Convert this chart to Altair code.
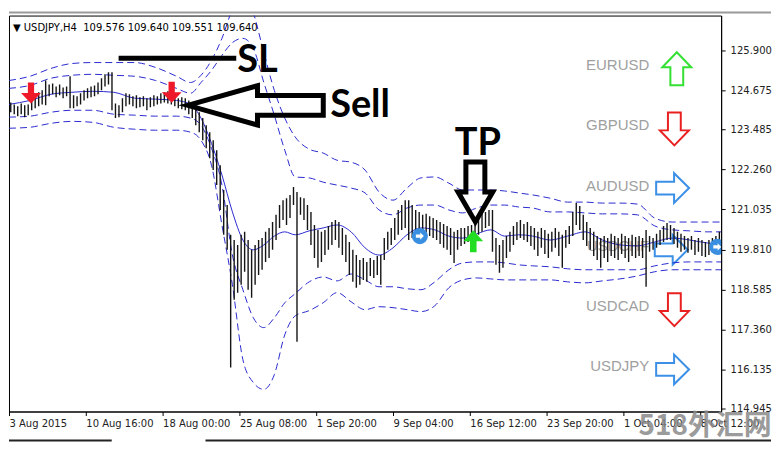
import altair as alt
import pandas as pd

# ---------------- data ----------------
highs = [
    124.31, 124.25, 124.19, 124.28, 124.22, 124.25, 124.37, 124.50, 124.62, 124.68,
    124.98, 124.86, 124.89, 124.80, 124.86, 124.77, 124.80, 125.11, 124.53, 124.50,
    124.59, 124.68, 124.74, 124.80, 124.83, 124.92, 125.05, 125.17, 125.23, 125.23,
    124.28, 124.22, 124.44, 124.59, 124.56, 124.50, 124.53, 124.47, 124.50, 124.44,
    124.47, 124.53, 124.50, 124.59, 124.62, 124.65, 124.59, 124.50, 124.44, 124.47,
    124.44, 124.37, 124.28, 124.13, 124.01, 123.83, 123.61, 123.40, 123.15, 122.85,
    122.39, 121.63, 121.17, 120.26, 120.10, 119.95, 120.26, 120.35, 120.10, 119.80,
    119.95, 120.10, 120.16, 120.35, 120.47, 120.65, 120.87, 121.17, 121.32, 121.38,
    121.48, 121.72, 121.57, 121.41, 121.38, 121.17, 120.96, 120.56, 120.41, 120.35,
    120.41, 120.53, 120.65, 120.71, 120.65, 120.47, 120.26, 120.04, 119.80, 119.64,
    119.49, 119.55, 119.43, 119.55, 119.49, 119.61, 119.64, 120.16, 120.35, 120.47,
    120.77, 121.02, 121.17, 121.32, 121.32, 121.17, 121.02, 120.96, 120.87, 120.90,
    120.83, 120.77, 120.71, 120.65, 120.59, 120.53, 120.47, 120.35, 120.41, 120.47,
    120.47, 120.53, 120.56, 120.65, 120.77, 120.90, 120.96, 121.02, 121.02, 120.16,
    119.95, 120.10, 120.22, 120.35, 120.53, 120.65, 120.71, 120.59, 120.65, 120.53,
    120.47, 120.35, 120.47, 120.41, 120.29, 120.35, 120.47, 120.35, 120.26, 120.41,
    120.53, 120.96, 121.23, 121.14, 120.87, 120.65, 120.47, 120.35, 120.22, 120.16,
    120.22, 120.16, 120.29, 120.22, 120.16, 120.29, 120.22, 120.16, 120.26, 120.19,
    120.22, 120.16, 120.41, 120.22, 120.16, 120.29, 120.41, 120.53, 120.62, 120.56,
    120.47, 120.35, 120.29, 120.22, 120.16, 120.22, 120.10, 120.16, 120.10, 120.04,
    120.10, 120.16, 120.22, 120.35,
]
lows = [
    124.01, 123.95, 123.89, 123.95, 123.86, 123.92, 124.07, 124.13, 124.19, 124.25,
    124.22, 124.50, 124.56, 124.47, 124.53, 124.44, 124.50, 124.13, 124.13, 124.19,
    124.25, 124.37, 124.44, 124.47, 124.50, 124.56, 124.68, 124.80, 124.86, 124.07,
    123.83, 123.86, 124.01, 124.19, 124.25, 124.19, 124.13, 124.16, 124.19, 124.07,
    124.16, 124.19, 124.25, 124.28, 124.31, 124.28, 124.25, 124.19, 124.13, 124.10,
    124.07, 123.95, 123.83, 123.61, 123.40, 123.15, 122.91, 122.60, 122.24, 121.78,
    121.02, 120.26, 119.80, 116.20, 118.27, 118.49, 118.73, 119.13, 118.58, 118.33,
    118.73, 119.03, 119.19, 119.43, 119.55, 119.80, 120.10, 120.47, 120.71, 120.56,
    120.77, 121.17, 116.99, 120.87, 120.71, 120.41, 119.95, 119.55, 119.25, 119.43,
    119.64, 119.80, 119.95, 120.10, 119.86, 119.64, 119.43, 119.03, 118.82, 118.64,
    118.73, 118.88, 118.82, 119.00, 118.94, 119.03, 118.73, 119.49, 119.80, 119.95,
    120.10, 120.26, 120.41, 120.47, 120.10, 120.16, 120.10, 120.35, 120.26, 120.32,
    120.22, 120.16, 120.10, 119.98, 119.86, 119.80, 119.64, 119.40, 119.80, 119.92,
    119.98, 120.04, 120.10, 120.16, 120.26, 120.35, 120.47, 120.53, 119.74, 119.34,
    119.10, 119.25, 119.55, 119.74, 119.95, 120.10, 120.16, 120.10, 120.04, 119.92,
    119.80, 119.61, 119.86, 119.67, 119.55, 119.74, 119.86, 119.61, 119.25, 119.86,
    119.98, 120.22, 120.56, 120.41, 120.10, 119.92, 119.80, 119.61, 119.49, 119.25,
    119.55, 119.43, 119.61, 119.55, 119.49, 119.67, 119.55, 119.43, 119.61, 119.55,
    119.61, 119.55, 118.67, 119.74, 119.80, 119.86, 119.95, 120.04, 120.10, 120.10,
    119.98, 119.86, 119.74, 119.80, 119.71, 119.80, 119.64, 119.74, 119.61, 119.58,
    119.64, 119.74, 119.80, 119.86,
]

tick_idx = [0, 22, 44, 66, 88, 110, 132, 154, 176, 198]
tick_labels = ["3 Aug 2015", "10 Aug 16:00", "18 Aug 00:00", "25 Aug 08:00",
               "1 Sep 20:00", "9 Sep 04:00", "16 Sep 12:00", "23 Sep 20:00",
               "1 Oct 04:00", "8 Oct 12:00"]
price_ticks = [125.900, 124.675, 123.485, 122.260, 121.035,
               119.810, 118.585, 117.360, 116.135, 114.945]

band_idx = [0, 6, 12, 18, 24, 30, 36, 42, 48, 52, 55, 58, 61, 64, 67, 70, 73, 76,
            79, 82, 86, 90, 94, 98, 102, 106, 110, 114, 118, 122, 126, 130, 134,
            138, 142, 146, 150, 155, 160, 165, 170, 175, 180, 185, 190, 195, 200, 204]
band_u2 = [124.98, 125.11, 125.35, 125.50, 125.53, 125.53, 125.53, 125.38, 125.11, 124.92,
           125.14, 125.60, 126.27, 127.18, 127.88, 127.06, 125.84, 124.68, 123.83, 123.25,
           122.88, 122.76, 122.54, 122.48, 122.24, 121.57, 121.32, 121.69, 122.00, 122.03,
           121.84, 121.63, 121.63, 121.63, 121.60, 121.54, 121.48, 121.38, 121.26, 121.26,
           121.23, 121.23, 121.20, 120.77, 120.65, 120.65, 120.65, 120.65]
band_u1 = [124.74, 124.83, 125.05, 125.14, 125.17, 125.14, 125.11, 124.98, 124.74, 124.59,
           124.92, 125.29, 125.75, 126.14, 126.27, 125.96, 124.92, 123.92, 122.85, 122.03,
           122.00, 121.87, 121.78, 121.69, 121.54, 121.02, 120.87, 121.08, 121.17, 121.17,
           121.02, 120.93, 121.08, 121.17, 121.17, 121.11, 121.08, 120.96, 120.96, 120.93,
           120.90, 120.90, 120.87, 120.53, 120.41, 120.38, 120.35, 120.35]
band_mid = [124.25, 124.37, 124.56, 124.62, 124.65, 124.62, 124.44, 124.41, 124.37, 124.25,
            123.83, 123.06, 122.09, 120.96, 120.10, 119.80, 119.95, 120.22, 120.35, 120.26,
            120.38, 120.47, 120.56, 120.35, 119.86, 119.64, 119.86, 120.26, 120.47, 120.41,
            120.22, 120.16, 120.29, 120.41, 120.22, 120.26, 120.22, 120.10, 120.22, 120.35,
            120.10, 119.95, 119.92, 120.04, 120.16, 120.10, 120.01, 119.98]
band_l1 = [123.86, 123.89, 124.01, 124.07, 124.07, 123.95, 123.92, 123.89, 123.89, 123.83,
           123.61, 122.91, 121.78, 119.64, 118.58, 117.72, 117.42, 117.72, 118.18, 118.46,
           118.82, 118.97, 118.85, 119.06, 118.88, 118.67, 118.67, 118.61, 118.58, 118.82,
           119.19, 119.40, 119.43, 119.43, 119.40, 119.34, 119.31, 119.28, 119.22, 119.19,
           119.19, 119.19, 119.19, 119.31, 119.40, 119.43, 119.43, 119.43]
band_l2 = [123.52, 123.55, 123.67, 123.73, 123.70, 123.55, 123.49, 123.46, 123.46, 123.40,
           123.15, 122.39, 120.56, 118.73, 116.44, 115.74, 115.53, 115.98, 117.20, 117.78,
           117.94, 118.18, 118.49, 118.21, 117.97, 118.06, 118.03, 117.97, 117.91, 118.09,
           118.64, 118.88, 118.94, 118.91, 118.88, 118.88, 118.88, 118.88, 118.82, 118.79,
           118.85, 118.91, 119.00, 119.13, 119.19, 119.19, 119.19, 119.19]

pairs = ["EURUSD", "GBPUSD", "AUDUSD", "USDCHF", "USDCAD", "USDJPY"]
pair_dir = ["up", "down", "right", "right", "down", "right"]
pair_label_v = [183.4] * 6
pair_label_p = [125.44, 123.61, 121.75, 119.92, 118.09, 116.23]
pair_arrow_v = [191.3, 190.6, 190.1, 189.7, 190.6, 190.1]
pair_arrow_p = [125.34, 123.50, 121.69, 119.80, 117.97, 116.14]

sell_sig_v = [6.3, 46.6]
sell_sig_p = [124.60, 124.62]
buy_sig_v = [133.0]
buy_sig_p = [120.06]
neutral_sig_v = [117.7, 202.9]
neutral_sig_p = [120.22, 119.89]

big_text = ["SL", "Sell", "TP"]
big_text_v = [65.4, 92.0, 127.7]
big_text_p = [125.23, 123.86, 122.70]
sl_line_v = [31.4]
sl_line_v2 = [65.1]
sl_line_p = [125.66]
sell_arrow_v = [70.6]
sell_arrow_p = [124.22]
tp_arrow_v = [133.6]
tp_arrow_p = [121.57]

header = "\u25bc USDJPY,H4\u00a0\u00a0109.576 109.640 109.551 109.640"
header_v = [1.14]
header_p = [126.60]
watermark = "518外汇网"
watermark_v = [199.4]
watermark_p = [114.37]

# ---------------- styles ----------------
SHAPES = {
    "up": "M0,-1L0.88,-0.09L0.39,-0.09L0.39,1L-0.39,1L-0.39,-0.09L-0.88,-0.09Z",
    "down": "M0,1L0.88,0.09L0.39,0.09L0.39,-1L-0.39,-1L-0.39,0.09L-0.88,0.09Z",
    "right": "M1,0L0.09,-0.9L0.09,-0.39L-1,-0.39L-1,0.39L0.09,0.39L0.09,0.9Z",
}
COLORS = {"up": "#33e033", "down": "#e82020", "right": "#3b8fe6"}
SELL_SIG = "M-0.3,-1L0.3,-1L0.3,0L0.95,0L0,1L-0.95,0L-0.3,0Z"
BUY_SIG = "M0,-1L0.9,0L0.3,0L0.3,1L-0.3,1L-0.3,0L-0.9,0Z"
BIG_LEFT = "M-1,0L0.03,-0.29L0.03,-0.147L1,-0.147L1,0.147L0.03,0.147L0.03,0.29Z"
BIG_DOWN = "M-0.317,-1L0.317,-1L0.317,0L0.58,0L0,1L-0.58,0L-0.317,0Z"
BLUE = "#2b2bd0"
AXFONT = "DejaVu Sans"

label_expr = "[" + ",".join("'" + s + "'" for s in tick_labels) + "][indexof(" + str(tick_idx) + ", datum.value)]"

x_enc = alt.X("v:Q", scale=alt.Scale(domain=[0, 204], nice=False, zero=False),
              axis=alt.Axis(values=tick_idx, labelExpr=label_expr, labelAlign="left",
                            labelPadding=3, tickSize=4, labelFlush=False, labelOverlap=False,
                            labelBound=False, grid=False, title=None, labelFont=AXFONT,
                            labelFontSize=10, labelColor="#222222", domainColor="black",
                            tickColor="black"))
y_enc = alt.Y("p:Q", scale=alt.Scale(domain=[114.853, 126.968], nice=False, zero=False),
              axis=alt.Axis(orient="right", values=price_ticks, format=".3f", tickSize=4,
                            labelPadding=5, grid=False, title=None, labelFont=AXFONT,
                            labelFontSize=10, labelColor="#222222", domainColor="black",
                            tickColor="black", labelOverlap=False))

# ---------------- frames ----------------
bars_df = pd.DataFrame({"v": [i + 0.5 for i in range(len(highs))], "p": lows, "p2": highs})

rows = []
for name, arr in [("u2", band_u2), ("u1", band_u1), ("l1", band_l1), ("l2", band_l2)]:
    for v, p in zip(band_idx, arr):
        rows.append({"v": v, "p": p, "band": name})
dash_df = pd.DataFrame(rows)
mid_df = pd.DataFrame({"v": band_idx, "p": band_mid})

lab_df = pd.DataFrame({"v": pair_label_v, "p": pair_label_p, "txt": pairs})
arr_df = pd.DataFrame({"v": pair_arrow_v, "p": pair_arrow_p,
                       "shape": [SHAPES[d] for d in pair_dir],
                       "col": [COLORS[d] for d in pair_dir]})

# ---------------- layers ----------------
panel_labels = alt.Chart(lab_df).mark_text(
    font="Liberation Sans", fontSize=15, color="#a0a0a0", align="right", baseline="middle"
).encode(x=x_enc, y=y_enc, text="txt:N")

panel_arrows = alt.Chart(arr_df).mark_point(
    filled=False, strokeWidth=2, size=1089, opacity=1
).encode(x=x_enc, y=y_enc, shape=alt.Shape("shape:N", scale=None),
         stroke=alt.Stroke("col:N", scale=None))

dashed = alt.Chart(dash_df).mark_line(
    color=BLUE, strokeWidth=1, strokeDash=[7, 4], clip=True, interpolate="monotone"
).encode(x=x_enc, y=y_enc, detail="band:N")

mid = alt.Chart(mid_df).mark_line(
    color=BLUE, strokeWidth=1, clip=True, interpolate="monotone"
).encode(x=x_enc, y=y_enc)

bars = alt.Chart(bars_df).mark_rule(color="#151515", strokeWidth=1.4, clip=True).encode(
    x=x_enc, y=y_enc, y2=alt.Y2("p2:Q"))

sl_line = alt.Chart(pd.DataFrame({"v": sl_line_v, "v2": sl_line_v2, "p": sl_line_p})).mark_rule(
    color="black", strokeWidth=5).encode(x=x_enc, x2=alt.X2("v2:Q"), y=y_enc)

texts = alt.Chart(pd.DataFrame({"v": big_text_v, "p": big_text_p, "txt": big_text})).mark_text(
    font="Lato", fontWeight="bold", fontSize=38, align="left", baseline="alphabetic", color="black"
).encode(x=x_enc, y=y_enc, text="txt:N")

sell_arrow = alt.Chart(pd.DataFrame({"v": sell_arrow_v, "p": sell_arrow_p})).mark_point(
    shape=BIG_LEFT, filled=False, stroke="black", strokeWidth=5, size=136 * 136, opacity=1
).encode(x=x_enc, y=y_enc)

tp_arrow = alt.Chart(pd.DataFrame({"v": tp_arrow_v, "p": tp_arrow_p})).mark_point(
    shape=BIG_DOWN, filled=False, stroke="black", strokeWidth=5, size=3600, opacity=1
).encode(x=x_enc, y=y_enc)

sell_sig = alt.Chart(pd.DataFrame({"v": sell_sig_v, "p": sell_sig_p})).mark_point(
    shape=SELL_SIG, filled=True, color="#ee1a2a", size=441, opacity=1, strokeWidth=0
).encode(x=x_enc, y=y_enc)

buy_sig = alt.Chart(pd.DataFrame({"v": buy_sig_v, "p": buy_sig_p})).mark_point(
    shape=BUY_SIG, filled=True, color="#22dd22", size=484, opacity=1, strokeWidth=0
).encode(x=x_enc, y=y_enc)

neutral_df = pd.DataFrame({"v": neutral_sig_v, "p": neutral_sig_p})
neutral_circle = alt.Chart(neutral_df).mark_point(
    shape="circle", filled=True, color="#3a8fe0", size=260, opacity=1, strokeWidth=0, clip=True
).encode(x=x_enc, y=y_enc)
neutral_arrow = alt.Chart(neutral_df).mark_point(
    shape=SHAPES["right"], filled=True, color="white", size=64, opacity=1, strokeWidth=0, clip=True
).encode(x=x_enc, y=y_enc)

head = alt.Chart(pd.DataFrame({"v": header_v, "p": header_p, "txt": [header]})).mark_text(
    font=AXFONT, fontSize=10, color="black", align="left", baseline="middle"
).encode(x=x_enc, y=y_enc, text="txt:N")

wm = alt.Chart(pd.DataFrame({"v": watermark_v, "p": watermark_p, "txt": [watermark]})).mark_text(
    font="Noto Sans CJK SC", fontWeight="bold", fontSize=28, color="#8a8a8a", opacity=0.85,
    align="center", baseline="middle"
).encode(x=x_enc, y=y_enc, text="txt:N")

top_line = alt.Chart(pd.DataFrame({"a": [0]})).mark_rule(color="#9a9a9a", strokeWidth=2).encode(
    x=alt.value(0), x2=alt.value(764), y=alt.value(-3))

scroll_a = alt.Chart(pd.DataFrame({"a": [0]})).mark_rule(color="#222222", strokeWidth=2).encode(
    x=alt.value(0), x2=alt.value(103), y=alt.value(426))
scroll_b = alt.Chart(pd.DataFrame({"a": [0]})).mark_rule(color="#222222", strokeWidth=2).encode(
    x=alt.value(197), x2=alt.value(764), y=alt.value(426))

chart = alt.layer(
    panel_labels, panel_arrows, dashed, mid, bars, sl_line, texts, sell_arrow, tp_arrow,
    sell_sig, buy_sig, neutral_circle, neutral_arrow, head, wm, top_line, scroll_a, scroll_b
).properties(
    width=714, height=397,
    padding={"left": 0, "top": 3, "right": 0, "bottom": 0},
    background="white",
).configure_view(stroke="black", strokeWidth=1)

chart.save("out.html", embed_options={"renderer": "svg", "actions": False})
